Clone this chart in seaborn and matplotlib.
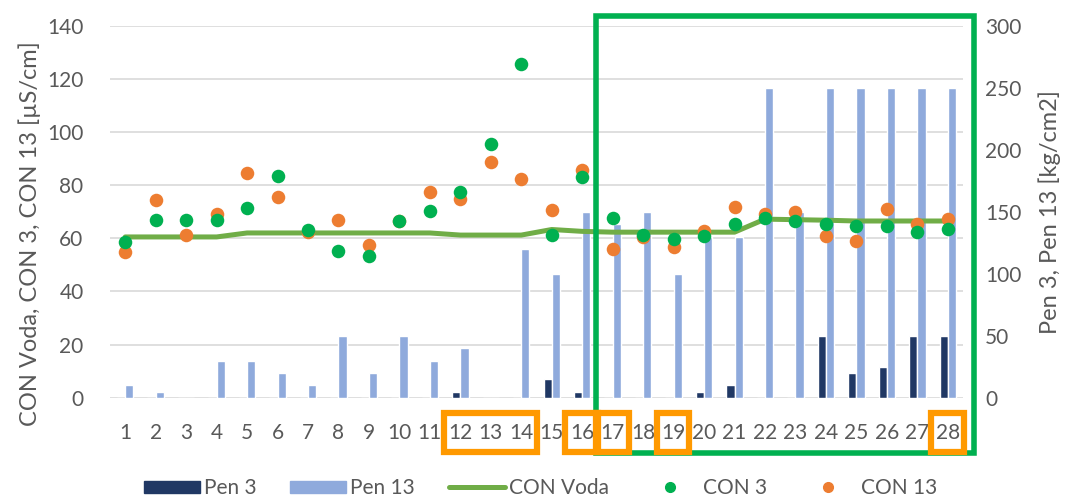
import numpy as np
import pandas as pd
import seaborn as sns
import matplotlib.pyplot as plt
from matplotlib.patches import Rectangle, Patch
from matplotlib.lines import Line2D
from matplotlib.transforms import blended_transform_factory

# measurement days 1..28
days = [1, 2, 3, 4, 5, 6, 7, 8, 9, 10, 11, 12, 13, 14,
        15, 16, 17, 18, 19, 20, 21, 22, 23, 24, 25, 26, 27, 28]

# penetration [kg/cm2] - right axis
pen_3 = [0, 0, 0, 0, 0, 0, 0, 0, 0, 0, 0, 5, 0, 0,
         15, 5, 0, 0, 0, 5, 10, 0, 0, 50, 20, 25, 50, 50]
pen_13 = [10, 5, 0, 30, 30, 20, 10, 50, 20, 50, 30, 40, 0, 120,
          100, 150, 140, 150, 100, 130, 130, 250, 150, 250, 250, 250, 250, 250]

# conductivity [uS/cm] - left axis
con_voda = [60.5, 60.5, 60.5, 60.5, 62, 62, 62, 62, 62, 62, 62, 61.2, 61.2, 61.2,
            63.3, 62.6, 62.3, 62.3, 62.3, 62.3, 62.3, 67.2, 67, 66.8, 66.5, 66.5, 66.5, 66.5]
con_3 = [58.5, 67, 67, 67, 71.5, 83.6, 63.1, 55.1, 53.3, 66.5, 70.4, 77.3, 95.5, 125.7,
         61.3, 83.2, 67.5, 61.2, 59.7, 60.7, 65.2, 67.5, 66.5, 65.4, 64.6, 64.7, 62.5, 63.6]
con_13 = [54.9, 74.4, 61.3, 69.2, 84.4, 75.5, 62.2, 67, 57.5, 66.5, 77.3, 74.8, 88.6, 82.4,
          70.5, 85.7, 55.8, 60.3, 56.7, 62.9, 71.8, 69.2, 69.8, 60.7, 59.1, 71, 65.2, 67.1]

# highlighted tick labels (first, last)
orange_boxes = [(12, 14), (16, 16), (17, 17), (19, 19), (28, 28)]

pen_df = pd.DataFrame({
    'day': days * 2,
    'series': ['Pen 3'] * len(days) + ['Pen 13'] * len(days),
    'value': pen_3 + pen_13,
})
con_df = pd.DataFrame({'day': days, 'voda': con_voda, 'con3': con_3, 'con13': con_13})

sns.set_theme(style='white')
plt.rcParams['font.family'] = ['Lato', 'DejaVu Sans']
txt = '#595959'
fs = 15

W, H = 1072, 501
fig = plt.figure(figsize=(W / 100, H / 100), dpi=100)
ax = fig.add_axes([110 / W, 103.3 / H, 853 / W, 372 / H])
ax_bar = ax.twinx()
ax_con = ax.twinx()

colors = {'Pen 3': '#203864', 'Pen 13': '#8FAADC'}
sns.barplot(data=pen_df, x='day', y='value', hue='series', palette=colors,
            native_scale=True, width=0.54, saturation=1, errorbar=None,
            legend=False, ax=ax_bar)

sns.lineplot(data=con_df, x='day', y='voda', color='#70AD47', lw=3.6, ax=ax_con)
sns.scatterplot(data=con_df, x='day', y='con13', color='#ED7D31', s=95,
                linewidth=0, ax=ax_con, zorder=3)
sns.scatterplot(data=con_df, x='day', y='con3', color='#00B050', s=95,
                linewidth=0, ax=ax_con, zorder=4)

ax.set_ylim(0, 140)
ax.set_yticks(range(0, 141, 20))
ax.grid(axis='y', color='#D9D9D9', lw=1.2)
ax_bar.set_ylim(0, 300)
ax_bar.set_yticks(range(0, 301, 50))
ax_con.set_ylim(0, 140)
ax_con.set_yticks([])
ax.set_xlim(0.5, 28.5)
ax.set_xticks(days)
ax.set_xticklabels([str(d) for d in days])

for a in (ax, ax_bar, ax_con):
    for s in a.spines.values():
        s.set_visible(False)
    a.set_xlabel('')
    a.set_ylabel('')
ax.tick_params(axis='both', length=0, labelsize=fs, labelcolor=txt)
ax.tick_params(axis='x', pad=18)
ax.tick_params(axis='y', pad=19)
ax_bar.tick_params(axis='y', length=0, labelsize=fs, labelcolor=txt, pad=16)

fig.text(30 / W, 1 - 234 / H, 'CON Voda, CON 3, CON 13 [µS/cm]', rotation=90,
         ha='center', va='center', fontsize=17, color=txt)
fig.text(1050 / W, 1 - 212 / H, 'Pen 3, Pen 13 [kg/cm2]', rotation=90,
         ha='center', va='center', fontsize=17, color=txt)

# legend
handles = [
    Patch(color=colors['Pen 3']),
    Patch(color=colors['Pen 13']),
    Line2D([], [], color='#70AD47', lw=3.6),
    Line2D([], [], ls='none', marker='o', color='#00B050', markersize=7),
    Line2D([], [], ls='none', marker='o', color='#ED7D31', markersize=7),
]
fig.legend(handles, ['Pen 3', 'Pen 13', 'CON Voda', 'CON 3', 'CON 13'],
           loc='center', bbox_to_anchor=(0.504, 1 - 488 / H), ncol=5,
           frameon=False, fontsize=fs, labelcolor=txt, handlelength=2.7,
           handleheight=0.5, handletextpad=0.2, columnspacing=1.6)

# green highlight frame
fig.patches.append(Rectangle((596 / W, 1 - 452.5 / H), (974 - 596) / W, (452.5 - 15.6) / H,
                             transform=fig.transFigure, fill=False,
                             ec='#00B050', lw=4, zorder=10))

# orange boxes round tick labels
tr = blended_transform_factory(ax.transData, fig.transFigure)
y0, y1 = 1 - 451.5 / H, 1 - 412.5 / H
for first, last in orange_boxes:
    r = Rectangle((first - 0.55, y0), last - first + 1.07, y1 - y0, transform=tr,
                  fill=False, ec='#FF9900', lw=4.5, zorder=11, clip_on=False)
    fig.patches.append(r)

fig.savefig('out.png', dpi=100)
